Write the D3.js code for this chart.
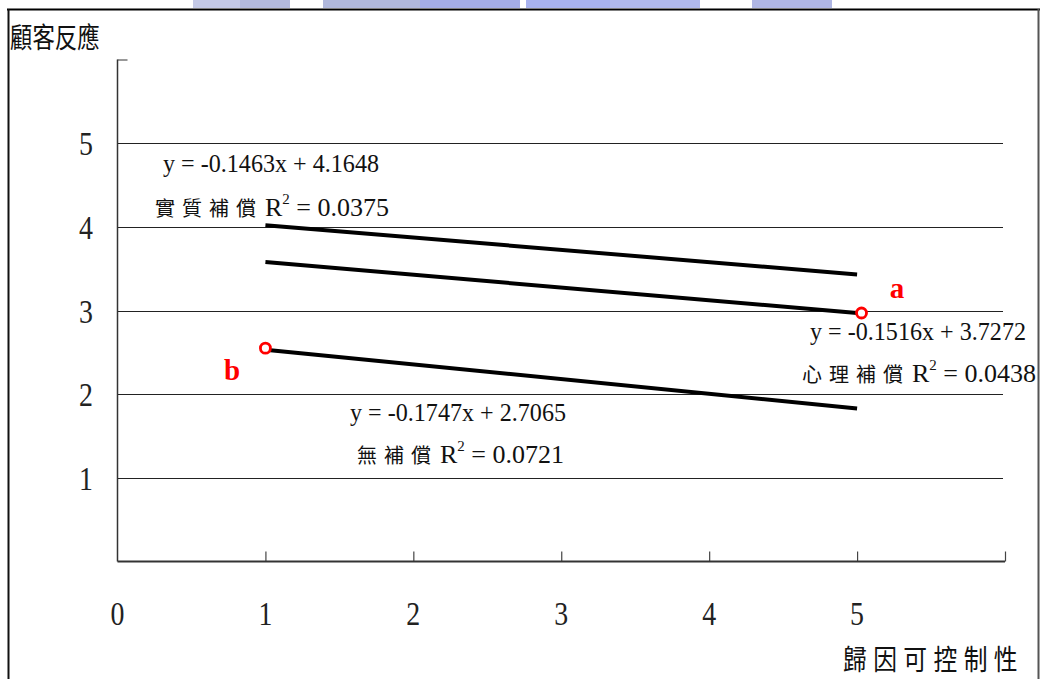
<!DOCTYPE html>
<html><head><meta charset="utf-8">
<script src="https://cdn.jsdelivr.net/npm/d3@7"></script>
<style>
html,body{margin:0;padding:0;background:#fff;}
svg{display:block;}
</style></head>
<body>
<svg id="c" width="1040" height="679"></svg>
<script>
// ---- data ----
const xTicks = [0, 1, 2, 3, 4, 5];
const yTicks = [1, 2, 3, 4, 5];
const seriesNames = ["實質補償", "心理補償", "無補償"];
const lineX = [1, 5];
const line實質 = [4.02, 3.43];
const line心理 = [3.58, 2.97];
const line無 = [2.53, 1.83];
const equations = ["y = -0.1463x + 4.1648", "y = -0.1516x + 3.7272", "y = -0.1747x + 2.7065"];
const r2Values = ["0.0375", "0.0438", "0.0721"];
const markX = [5.03, 1];
const markY = [2.97, 2.55];
const markLabels = ["a", "b"];
const xTitle = "歸因可控制性";
const yTitle = "顧客反應";

const svg = d3.select("#c");
const serif = "'Liberation Serif','Times New Roman',serif";
const cjk = "'Noto Sans CJK TC','Noto Sans CJK SC',sans-serif";

// blurred header strip
const strips = [[193,240,"#c4c9e6"],[240,290,"#b3bade"],[323,420,"#b0b8dc"],[420,520,"#a4ade6"],[526,610,"#a8b2ee"],[610,700,"#b0b9ec"],[752,832,"#afb6e4"]];
svg.selectAll("rect.strip").data(strips).enter().append("rect")
  .attr("x", d=>d[0]).attr("y", 0).attr("width", d=>d[1]-d[0]).attr("height", 8)
  .attr("fill", d=>d[2]);

// frame
svg.append("line").attr("x1",7).attr("x2",1040).attr("y1",9.5).attr("y2",9.5).attr("stroke","#000").attr("stroke-width",2);
svg.append("line").attr("x1",8.5).attr("x2",8.5).attr("y1",9).attr("y2",679).attr("stroke","#111").attr("stroke-width",2);
svg.append("line").attr("x1",1038.5).attr("x2",1038.5).attr("y1",9).attr("y2",679).attr("stroke","#555").attr("stroke-width",2);

const x = d3.scaleLinear().domain([0, 6]).range([117.5, 1005]);
const y = d3.scaleLinear().domain([0, 6]).range([561.5, 59.5]);

// gridlines
svg.append("g").selectAll("line").data(yTicks).enter().append("line")
  .attr("x1", x(0)).attr("x2", x(6) - 2)
  .attr("y1", d=>Math.round(y(d))+0.5).attr("y2", d=>Math.round(y(d))+0.5)
  .attr("stroke", "#222").attr("stroke-width", 1);

// y axis
const yAxis = d3.axisRight(y).tickValues([6]).tickSize(10).tickFormat("");
const gy = svg.append("g").attr("transform", `translate(${x(0)},0)`).call(yAxis);
gy.select(".domain").remove();
gy.selectAll("line").attr("stroke","#333");
svg.append("line").attr("x1", x(0)).attr("x2", x(0)).attr("y1", y(6)).attr("y2", y(0))
  .attr("stroke", "#333").attr("stroke-width", 1.5);

// x axis
const xAxis = d3.axisTop(x).tickValues([1,2,3,4,5,6]).tickSize(10).tickFormat("");
const gx = svg.append("g").attr("transform", `translate(0,${y(0)})`).call(xAxis);
gx.select(".domain").remove();
gx.selectAll("line").attr("stroke","#444").attr("stroke-width",1.2);
svg.append("line").attr("x1", x(0)).attr("x2", x(6)).attr("y1", y(0)).attr("y2", y(0))
  .attr("stroke", "#333").attr("stroke-width", 2);

// tick labels
svg.append("g").selectAll("text").data(xTicks).enter().append("text")
  .attr("transform", d=>`translate(${x(d)},625) scale(0.82,1)`)
  .attr("text-anchor","middle").attr("font-family", serif).attr("font-size", 34)
  .attr("fill","#222").text(d=>d);
svg.append("g").selectAll("text").data(yTicks).enter().append("text")
  .attr("transform", d=>`translate(93,${y(d)+12}) scale(0.82,1)`)
  .attr("text-anchor","end").attr("font-family", serif).attr("font-size", 34)
  .attr("fill","#222").text(d=>d);

// trend lines
const lines = [line實質, line心理, line無];
const lg = d3.line().x((d,i)=>x(lineX[i])).y(d=>y(d));
svg.append("g").selectAll("path").data(lines).enter().append("path")
  .attr("d", d=>lg(d)).attr("fill","none").attr("stroke","#000").attr("stroke-width",4);

// red markers
svg.append("g").selectAll("circle").data(markX).enter().append("circle")
  .attr("cx", d=>x(d)).attr("cy", (d,i)=>y(markY[i])).attr("r", 5)
  .attr("fill","#fff").attr("stroke","#f00").attr("stroke-width",2.8);
const markPos = [[897, 298], [232, 380]];
svg.append("g").selectAll("text").data(markLabels).enter().append("text")
  .attr("x", (d,i)=>markPos[i][0]).attr("y", (d,i)=>markPos[i][1])
  .attr("text-anchor","middle").attr("font-family", serif).attr("font-weight","bold")
  .attr("font-size", 29).attr("fill","#f00").text(d=>d);

// equation annotations
const eqPos = [[163,172,216],[810,340,216],[350,421,216]];
svg.append("g").selectAll("text").data(equations).enter().append("text")
  .attr("x",(d,i)=>eqPos[i][0]).attr("y",(d,i)=>eqPos[i][1])
  .attr("font-family", serif).attr("font-size", 25).attr("fill","#111")
  .attr("textLength",(d,i)=>eqPos[i][2]).attr("lengthAdjust","spacingAndGlyphs")
  .text(d=>d);

const lblPos = [[155,216],[802,382],[357,463]];
seriesNames.forEach((name,i)=>{
  const t = svg.append("text").attr("x", lblPos[i][0]).attr("y", lblPos[i][1])
    .attr("fill","#111");
  t.append("tspan").attr("font-family", cjk).attr("font-size", 20)
    .attr("letter-spacing", 7).text(name);
  t.append("tspan").attr("font-family", serif).attr("font-size", 26).attr("dx", 2).text("R");
  t.append("tspan").attr("font-family", serif).attr("font-size", 15).attr("dy",-12).text("2");
  t.append("tspan").attr("font-family", serif).attr("font-size", 26).attr("dy",12).text(" = " + r2Values[i]);
});

// axis titles
svg.append("text").attr("transform","translate(10,48) scale(0.8,1)")
  .attr("font-family", cjk).attr("font-size", 28).attr("fill","#111").text(yTitle);
svg.append("text").attr("transform","translate(843,670) scale(0.85,1)")
  .attr("font-family", cjk).attr("font-size", 28).attr("letter-spacing", 7.5).attr("fill","#111").text(xTitle);
</script>
</body></html>
